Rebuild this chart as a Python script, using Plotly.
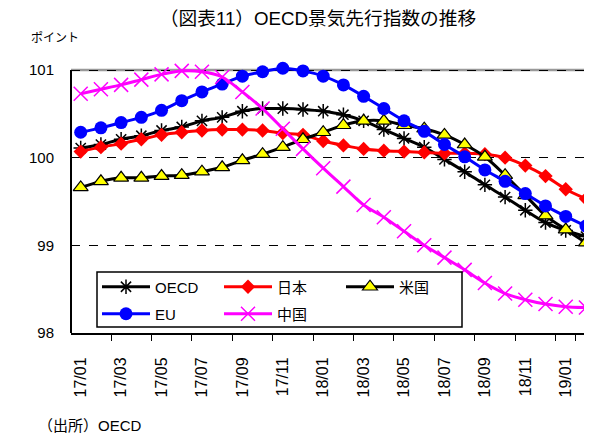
import plotly.graph_objects as go

months = ["17/01","17/02","17/03","17/04","17/05","17/06","17/07","17/08","17/09","17/10","17/11","17/12",
          "18/01","18/02","18/03","18/04","18/05","18/06","18/07","18/08","18/09","18/10","18/11","18/12",
          "19/01","19/02"]
oecd = [100.11,100.15,100.21,100.25,100.31,100.35,100.42,100.46,100.53,100.56,100.56,100.55,
        100.53,100.49,100.42,100.32,100.22,100.12,99.98,99.84,99.69,99.55,99.40,99.26,99.17,99.10]
japan = [100.07,100.12,100.16,100.21,100.26,100.29,100.31,100.32,100.32,100.31,100.28,100.26,
         100.19,100.14,100.10,100.08,100.07,100.06,100.05,100.05,100.04,100.00,99.91,99.79,99.64,99.53]
usa = [99.66,99.73,99.77,99.77,99.79,99.80,99.84,99.89,99.97,100.04,100.12,100.21,
       100.29,100.37,100.42,100.42,100.37,100.33,100.26,100.15,100.01,99.80,99.57,99.34,99.18,99.03]
eu = [100.29,100.34,100.40,100.46,100.54,100.65,100.75,100.84,100.93,100.98,101.02,100.99,
      100.93,100.83,100.70,100.56,100.42,100.30,100.15,100.01,99.86,99.73,99.59,99.45,99.33,99.22]
china = [100.73,100.78,100.83,100.89,100.95,100.99,100.98,100.92,100.75,100.56,100.33,100.10,
         99.88,99.67,99.46,99.32,99.16,99.00,98.86,98.72,98.57,98.45,98.38,98.33,98.30,98.29]
tick_labels = months[::2]
y_ticks = [98, 99, 100, 101]

FONT = "Liberation Sans, Arial, Noto Sans CJK JP"

fig = go.Figure()
def add(name, y, color, symbol, size, legend, mcolor=None, mline=None, lw=3):
    fig.add_trace(go.Scatter(
        x=months, y=y, name=name, mode="lines+markers", legend=legend,
        line=dict(color=color, width=lw, shape="spline", smoothing=0.8),
        marker=dict(symbol=symbol, size=size, color=mcolor or color,
                    line=mline or dict(color=color, width=1.5)),
        cliponaxis=False))

add("OECD", oecd, "black", "asterisk-open", 12, "legend")
add("日本", japan, "#ff0000", "diamond", 11, "legend", mline=dict(color="#ff0000", width=0))
add("米国", usa, "black", "triangle-up", 13, "legend", mcolor="#ffff00", mline=dict(color="black", width=1.2))
add("EU", eu, "#0000ff", "circle", 13, "legend2", mline=dict(color="#0000ff", width=0))
add("中国", china, "#ff00ff", "x-thin-open", 14, "legend2", mline=dict(color="#ff00ff", width=1.5))

# page body has an 8px margin: the figure is laid out in reference pixels minus OFF
OFF = 8
W, H = 592 - OFF, 434 - OFF
L, T, B = 71 - OFF, 60 - OFF, 101
TOP101 = 70 - OFF          # pixel row of the 101 line
pw = W - L
ph = H - T - B
unit = (H - B - TOP101) / 3.0
ytop = 101 + (TOP101 - T) / unit
def px(x): return (x - OFF - L) / pw
def py(y): return (H - B - (y - OFF)) / ph

fig.update_layout(
    width=W, height=H,
    margin=dict(l=L, r=0, t=T, b=B, autoexpand=False),
    paper_bgcolor="white", plot_bgcolor="white",
    font=dict(family=FONT, color="black"),
    showlegend=True,
    title=dict(text="（図表11）OECD景気先行指数の推移", xref="container", yref="container",
               x=(318 - OFF)/W, y=1-(18 - OFF)/H, xanchor="center", yanchor="middle",
               font=dict(size=18.7, family=FONT, color="black")),
    legend=dict(orientation="h", x=px(97), y=py(287), xanchor="left", yanchor="middle",
                bgcolor="rgba(0,0,0,0)", borderwidth=0, itemwidth=48,
                entrywidth=59, font=dict(size=15, family=FONT), itemclick=False),
    legend2=dict(orientation="h", x=px(97), y=py(314), xanchor="left", yanchor="middle",
                 bgcolor="rgba(0,0,0,0)", borderwidth=0, itemwidth=48,
                 entrywidth=59, font=dict(size=15, family=FONT), itemclick=False),
    xaxis=dict(type="category", range=[-0.48, 25.3], tickmode="array", automargin=False,
               tickvals=tick_labels, ticktext=tick_labels, tickson="boundaries",
               ticks="outside", ticklen=6, tickcolor="black", tickwidth=1,
               tickangle=-90, tickfont=dict(size=16, family=FONT),
               ticklabelstandoff=16,
               showline=True, linecolor="black", linewidth=2, showgrid=False, zeroline=False),
    yaxis=dict(range=[98, ytop], tickmode="array", tickvals=y_ticks, automargin=False,
               ticktext=[str(v) for v in y_ticks], ticks="", ticklabelstandoff=16,
               tickfont=dict(size=15, family=FONT),
               showline=False,
               showgrid=True, gridcolor="black", griddash="dash", gridwidth=1, zeroline=False),
    shapes=[
        dict(type="line", xref="paper", yref="y", x0=0, x1=1, y0=101, y1=101,
             line=dict(color="#999999", width=2.5), layer="below"),
        dict(type="line", xref="paper", yref="y", x0=0, x1=0, y0=98, y1=101,
             line=dict(color="black", width=2), layer="below"),
        dict(type="rect", xref="paper", yref="paper", x0=px(97), x1=px(462), y0=py(327), y1=py(272),
             line=dict(color="black", width=1.5), fillcolor="white", layer="above"),
    ],
    annotations=[
        dict(text="ポイント", xref="paper", yref="paper", x=px(29), y=py(38),
             xanchor="left", yanchor="middle", showarrow=False, font=dict(size=12, family=FONT)),
        dict(text="（出所）OECD", xref="paper", yref="paper", x=px(36), y=py(425),
             xanchor="left", yanchor="middle", showarrow=False, font=dict(size=15, family=FONT)),
    ],
)

fig.write_html("out.html")
